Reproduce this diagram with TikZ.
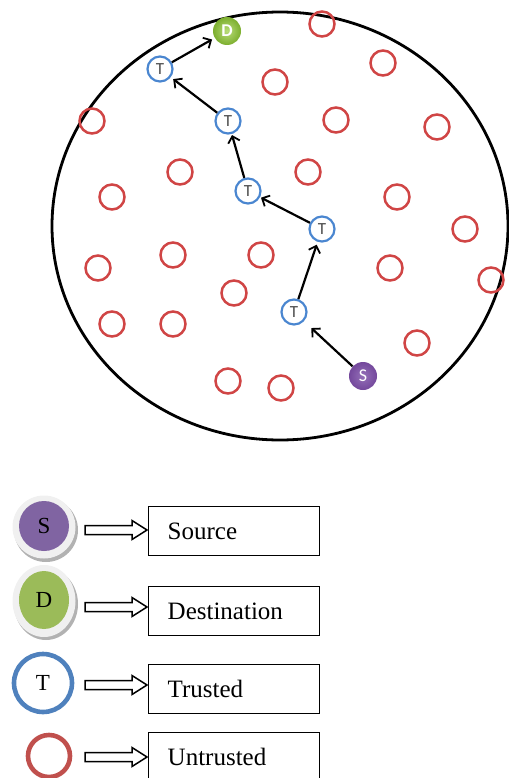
\documentclass[tikz,border=0pt]{standalone}
\usepackage{fontspec}
\setmainfont{Liberation Serif}
\newfontfamily\diagfont{Carlito}
\usetikzlibrary{arrows.meta,shapes.geometric}
\definecolor{untr}{HTML}{D04545}
\definecolor{trus}{HTML}{4A86D0}
\definecolor{dgreen}{HTML}{7CAE2E}
\definecolor{dlight}{HTML}{B8DC78}
\definecolor{spurple}{HTML}{74489C}
\definecolor{slight}{HTML}{9470B8}
\definecolor{lred}{HTML}{C0504D}
\definecolor{lblue}{HTML}{4F81BD}
\definecolor{lgreen}{HTML}{9BBB59}
\definecolor{lpurple}{HTML}{8064A2}
\begin{document}
\begin{tikzpicture}[x=1pt,y=-1pt,
  unode/.style={circle,draw=untr,line width=2.5pt,minimum size=25pt,inner sep=0pt},
  tnode/.style={circle,draw=trus,line width=2.2pt,minimum size=25pt,inner sep=0pt,
    font=\diagfont\fontsize{17}{17}\selectfont,text=black!70},
  dnode/.style={circle,inner color=dlight,outer color=dgreen,minimum size=28pt,inner sep=0pt,
    font=\diagfont\bfseries\fontsize{18}{18}\selectfont,text=white},
  snode/.style={circle,inner color=slight,outer color=spurple,minimum size=28pt,inner sep=0pt,
    font=\diagfont\fontsize{18}{18}\selectfont,text=white},
  link/.style={line width=2.2pt,-{Straight Barb[length=6pt,width=12pt,line width=1.8pt]},shorten >=3pt},
  legbox/.style={draw,line width=1.4pt,rectangle,minimum width=171pt,minimum height=49pt,
    text width=133pt,inner xsep=19pt,align=left,anchor=north west,
    font=\fontsize{25}{25}\selectfont},
  blockarr/.style={draw,line width=1.5pt,fill=white,line join=miter},
  legletter/.style={font=\fontsize{23}{23}\selectfont,text=black},
]
\useasboundingbox (0,0) rectangle (508,778);
% field
\draw[line width=2.8pt] (280,226) ellipse [x radius=228, y radius=214];
% untrusted nodes
\foreach \x/\y [count=\i] in {322/24,383/63,275/82,92/121,336/120,437/127,180/172,308/172,
  112/197,397/197,465/229,98/268,173/255,261/255,390/268,491/280,234/293,112/324,173/324,
  417/343,228/381,281/388}
  \node[unode] (u\i) at (\x,\y) {};
% trusted path
\node[dnode] (d) at (227,31) {D};
\node[tnode] (t1) at (160,69) {T};
\node[tnode] (t2) at (228,121) {T};
\node[tnode] (t3) at (248,191) {T};
\node[tnode] (t4) at (322,229) {T};
\node[tnode] (t5) at (294,312) {T};
\node[snode] (s) at (363,376) {S};
\draw[link,shorten >=10pt] (s) -- (t5);
\draw[link] (t5) -- (t4);
\draw[link,shorten >=1pt] (t4) -- (t3);
\draw[link,shorten >=1pt] (t3) -- (t2);
\draw[link] (t2) -- (t1);
\draw[link] (t1) -- (d);
% legend
% Source
\fill[black!30] (46,530) circle (32);
\fill[black!6] (44,527) circle (31.5);
\node[circle,fill=lpurple,minimum size=50pt,inner sep=0pt,legletter] (ls) at (44,526) {S};
% Destination
\fill[black!30] (46,604) circle [x radius=32, y radius=36];
\fill[black!6] (44,601) circle [x radius=31.5, y radius=36];
\node[ellipse,fill=lgreen,minimum width=50pt,minimum height=58pt,inner sep=0pt,legletter] (ld) at (44,600) {D};
% Trusted
\node[circle,draw=lblue,line width=4.6pt,minimum size=58pt,inner sep=0pt,legletter] (lt) at (43,683) {T};
% Untrusted
\node[circle,draw=lred,line width=4.6pt,minimum size=42pt,inner sep=0pt] (lu) at (49,756) {};
% boxes
\node[legbox] (bs) at (148,506) {Source};
\node[legbox] (bd) at (148,586) {Destination};
\node[legbox] (bt) at (148,664) {Trusted};
\node[legbox] (bu) at (148,732) {Untrusted};
% block arrows
\foreach \b/\yy in {bs/530,bd/607,bt/685,bu/757}{
  \coordinate (a\b) at (85,\yy);
  \draw[blockarr] (a\b) ++(0,-4.5) -- ++(47,0) -- ++(0,-5) -- ++(15,9.5) -- ++(-15,9.5)
    -- ++(0,-5) -- ++(-47,0) -- cycle;
}
\end{tikzpicture}
\end{document}
